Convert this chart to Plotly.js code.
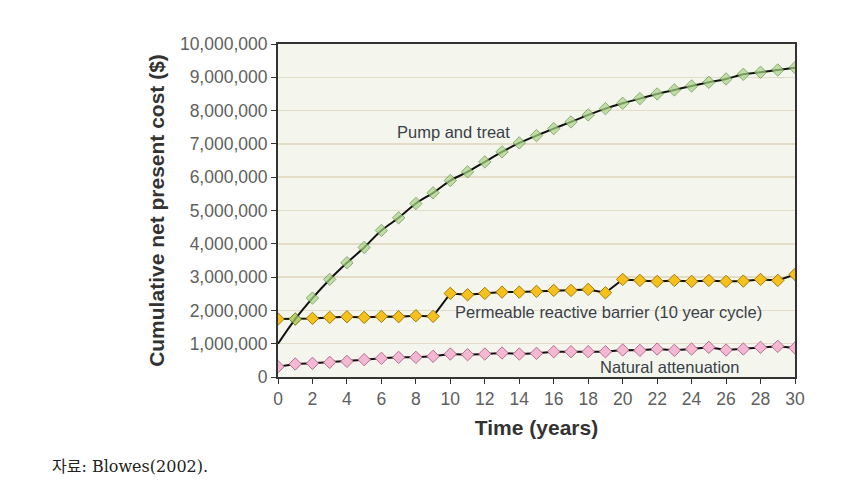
<!DOCTYPE html>
<html><head><meta charset="utf-8">
<script src="https://cdn.plot.ly/plotly-3.0.1.min.js"></script>
<style>body{margin:0;background:#fff}#c{width:850px;height:488px}</style>
</head><body><div id="c"></div>
<script>
const years = Array.from({length:31},(_,i)=>i);
const pumpYears = [0].concat(years.slice(1));
const pumpTreat = [1.0,1.74,2.37,2.93,3.43,3.89,4.40,4.78,5.21,5.53,5.90,6.16,6.46,6.76,7.03,7.25,7.46,7.66,7.87,8.06,8.22,8.36,8.50,8.62,8.74,8.85,8.95,9.09,9.15,9.22,9.29];
const prb = [1.74,1.74,1.76,1.79,1.81,1.79,1.82,1.81,1.84,1.82,2.51,2.47,2.51,2.55,2.55,2.57,2.60,2.60,2.63,2.53,2.93,2.90,2.87,2.90,2.87,2.90,2.87,2.88,2.93,2.90,3.08];
const natAtt = [0.31,0.39,0.41,0.44,0.47,0.52,0.56,0.59,0.59,0.62,0.69,0.67,0.69,0.72,0.69,0.71,0.76,0.76,0.76,0.76,0.81,0.80,0.84,0.80,0.84,0.89,0.81,0.84,0.89,0.92,0.87];
const M = 1e6;
const toDollars = a => a.map(v=>v*M);
const pumpSizes = pumpYears.map((y,i)=> i===0 ? 0 : 9.5);

const traces = [
 {x:years, y:toDollars(prb), mode:'lines+markers', line:{color:'#111',width:2},
  marker:{symbol:'diamond',size:9.5,color:'#f6c11c',line:{color:'#a47a00',width:1}}},
 {x:years, y:toDollars(natAtt), mode:'lines+markers', line:{color:'#111',width:2},
  marker:{symbol:'diamond',size:9.5,color:'#f5b8d3',line:{color:'#b86c90',width:1}}},
 {x:pumpYears, y:toDollars(pumpTreat), mode:'lines+markers', line:{color:'#111',width:2,shape:'spline'},
  marker:{symbol:'diamond',size:pumpSizes,color:'#a8d584',line:{color:'#5e8c42',width:1}}}
];
const FF = 'Liberation Sans, Arial, sans-serif';
const tickFont = {family:FF, size:17.5, color:'#606060'};
const annFont = {family:FF, size:16.5, color:'#3a4048'};
const layout = {
 width:850, height:488, showlegend:false,
 margin:{l:278,r:55,t:44,b:111},
 paper_bgcolor:'#fff', plot_bgcolor:'#f4f6ee',
 xaxis:{range:[0,30], tickvals:[0,2,4,6,8,10,12,14,16,18,20,22,24,26,28,30], ticks:'outside', ticklen:5,
   tickcolor:'#333', showline:true, linecolor:'#333', linewidth:2, mirror:true, showgrid:false, zeroline:false,
   tickfont:tickFont,
   title:{text:'<b>Time (years)</b>', font:{family:FF, size:21, color:'#333'}, standoff:12}},
 yaxis:{range:[0,10*M], dtick:M, tickformat:',d', ticks:'outside', ticklen:5, tickcolor:'#333',
   showline:true, linecolor:'#333', linewidth:2, mirror:true, gridcolor:'#e3dcc6', gridwidth:1.5, zeroline:false,
   tickfont:tickFont,
   title:{text:'<b>Cumulative net present cost ($)</b>', font:{family:FF, size:21, color:'#333'}, standoff:10}},
 annotations:[
  {x:10.2, y:7.35*M, text:'Pump and treat', showarrow:false, font:annFont},
  {x:19.2, y:1.95*M, text:'Permeable reactive barrier (10 year cycle)', showarrow:false, font:annFont},
  {x:22.7, y:0.31*M, text:'Natural attenuation', showarrow:false, font:annFont},
  {xref:'paper', yref:'paper', x:-278/517+50/517, xanchor:'left', y:-(467-377)/333, yanchor:'middle',
   text:'자료: Blowes(2002).', showarrow:false, font:{family:'DejaVu Serif, Noto Sans CJK KR, serif', size:16, color:'#222'}}
 ]
};
Plotly.newPlot('c', traces, layout, {displayModeBar:false, staticPlot:true});
</script></body></html>
